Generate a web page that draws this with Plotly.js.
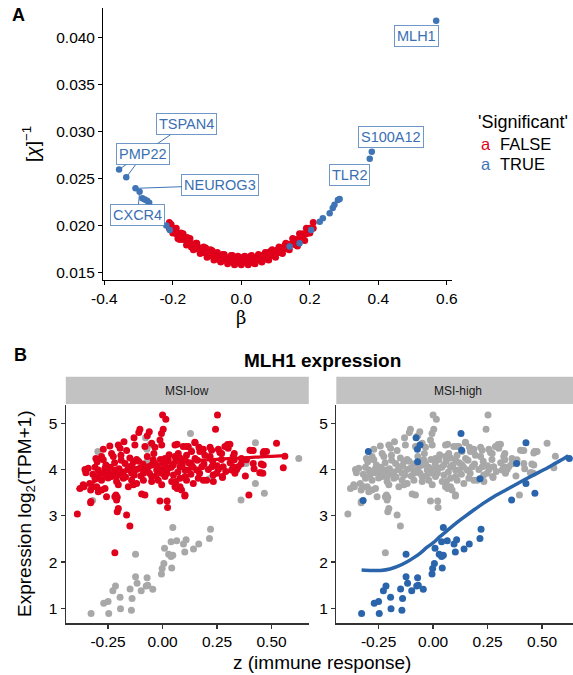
<!DOCTYPE html>
<html><head><meta charset="utf-8">
<script src="https://cdn.plot.ly/plotly-3.0.1.min.js"></script>
<style>html,body{margin:0;padding:0;background:#fff}#chart{width:573px;height:675px}</style>
</head><body><div id="chart"></div>
<script>
// ---------- Panel A data ----------
const nsX = [
 -0.21,-0.19,-0.17,-0.15,-0.13,-0.11,-0.09,-0.07,-0.05,-0.03,-0.01,0.01,0.03,0.05,0.07,0.09,0.11,0.13,0.15,0.17,0.19,0.21,
 -0.21,-0.19,-0.17,-0.15,-0.13,-0.11,-0.09,-0.07,-0.05,-0.03,-0.01,0.01,0.03,0.05,0.07,0.09,0.11,0.13,0.15,0.17,0.19,0.21,
 -0.20,-0.18,-0.16,-0.14,-0.12,-0.10,-0.08,-0.06,-0.04,-0.02,0.00,0.02,0.04,0.06,0.08,0.10,0.12,0.14,0.16,0.18,0.20,
 -0.20,-0.18,-0.16,-0.14,-0.12,-0.10,-0.08,-0.06,-0.04,-0.02,0.00,0.02,0.04,0.06,0.08,0.10,0.12,0.14,0.16,0.18,0.20,
 -0.205,-0.176,-0.158,-0.133,-0.104,-0.085,-0.055,-0.026,0.006,0.027,0.058,0.083,0.106,0.128,0.155,0.176,0.196,
 -0.185,-0.146,-0.117,-0.064,-0.013,0.036,0.074,0.117,0.164,0.185
];
const nsY = [
 0.0203,0.0197,0.0191,0.0186,0.0181,0.0177,0.0174,0.0171,0.0169,0.0168,0.0167,0.0167,0.0168,0.0169,0.0171,0.0174,0.0177,0.0181,0.0186,0.0191,0.0197,0.0203,
 0.0197,0.0191,0.0185,0.0180,0.0175,0.0171,0.0168,0.0165,0.0163,0.0162,0.0161,0.0161,0.0162,0.0163,0.0165,0.0168,0.0171,0.0175,0.0180,0.0185,0.0191,0.0197,
 0.0197,0.0191,0.0185,0.0180,0.0176,0.0172,0.0169,0.0167,0.0165,0.0164,0.0164,0.0164,0.0165,0.0167,0.0169,0.0172,0.0176,0.0180,0.0185,0.0191,0.0197,
 0.0192,0.0185,0.0179,0.0174,0.0170,0.0166,0.0163,0.0161,0.0159,0.0158,0.0158,0.0158,0.0159,0.0161,0.0163,0.0166,0.0170,0.0174,0.0179,0.0185,0.0192,
 0.0201,0.0192,0.0187,0.0181,0.0176,0.0173,0.0169,0.0168,0.0166,0.0167,0.0168,0.0172,0.0174,0.0179,0.0184,0.0189,0.0195,
 0.0186,0.0177,0.0171,0.0163,0.0160,0.0160,0.0164,0.0171,0.0178,0.0184
];
const sigOtherX = [-0.289,-0.282,-0.275,-0.269,-0.219,-0.209,0.141,0.170,0.204,0.229,0.238,0.258,0.267,0.272,0.282,0.287];
const sigOtherY = [0.02288,0.02277,0.02262,0.02241,0.0200,0.0195,0.01774,0.0181,0.0195,0.02039,0.02075,0.0213,0.02185,0.0222,0.0227,0.0228];
const genes = ["MLH1","S100A12","TLR2","TSPAN4","PMP22","NEUROG3","CXCR4"];
const geneX = [0.569,0.381,0.375,-0.357,-0.336,-0.309,-0.297];
const geneY = [0.0418,0.02785,0.0271,0.02597,0.02512,0.02395,0.02358];
const aTickX = [-0.4,-0.2,0.0,0.2,0.4,0.6];
const aTickXText = ["-0.4","-0.2","0.0","0.2","0.4","0.6"];
const aTickY = [0.015,0.020,0.025,0.030,0.035,0.040];
const aTickYText = ["0.015","0.020","0.025","0.030","0.035","0.040"];
const legendLabels = ["FALSE","TRUE"];

// ---------- Panel B data ----------
const lowX = [
 -0.391,-0.219,-0.150,-0.165,-0.203,-0.208,-0.214,-0.208,-0.330,-0.012,
 0.021,0.023,0.102,0.396,0.000,0.015,0.252,0.243,0.523,0.554,
 0.561,0.446,0.453,0.465,0.410,0.309,0.294,0.275,0.324,0.232,
 -0.104,-0.109,-0.061,-0.070,0.003,-0.005,-0.131,-0.177,-0.242,-0.272,
 -0.306,-0.300,-0.356,-0.352,-0.379,-0.361,-0.330,-0.318,-0.280,-0.257,
 -0.219,-0.096,-0.081,0.067,0.080,0.061,0.278,0.187,0.141,0.067,
 0.148,0.187,0.110,0.225,0.263,0.301,0.362,0.385,0.460,0.324,
 0.149,0.118,0.167,0.218,0.298,0.286,0.256,0.271,0.133,0.171,
 0.194,0.218,0.110,0.149,0.329,0.329,0.401,0.416,0.462,0.477,
 0.462,0.451,0.416,0.347,0.332,0.317,0.256,0.248,0.226,
 0.180,0.157,0.133,0.118,0.103,0.164,0.202,0.233,0.274,
 -0.203,-0.195,-0.127,-0.081,-0.050,-0.035,-0.012,-0.004,0.057,0.072,
 0.095,-0.234,-0.226,-0.191,-0.165,-0.280,-0.272,-0.134,-0.119,
 -0.043,-0.035,0.011,0.026,0.057,0.103,-0.341,-0.295,-0.264,
 -0.249,-0.218,-0.195,-0.172,-0.150,-0.142,-0.104,-0.088,-0.065,-0.027,
 -0.004,0.026,0.049,0.080,0.103,-0.310,-0.280,-0.234,-0.211,-0.180,
 -0.142,-0.119,-0.088,-0.050,-0.020,0.011,0.042,0.080,0.110,-0.364,
 -0.334,-0.302,-0.264,-0.203,-0.157,-0.134,-0.050,-0.004,0.057,
 0.087,-0.295,-0.211,-0.329,0.103,
 -0.32,-0.31,-0.29,-0.27,-0.26,-0.25,-0.24,-0.23,-0.22,-0.21,
 -0.20,-0.19,-0.18,-0.17,-0.16,-0.15,-0.14,-0.13,-0.12,-0.11,
 -0.10,-0.09,-0.08,-0.07,-0.06,-0.05,-0.04,-0.03,-0.02,-0.01,
 0.00,0.01,0.02,0.03,0.04,0.05,0.06,0.07,0.08,0.09,
 0.12,0.13,0.14,0.16,0.17,0.19,0.21,0.23,0.25,0.27,
 0.29,0.31,0.34,0.36,0.38,0.42
];
const lowY = [
 3.04,2.20,2.78,3.02,3.16,3.09,3.45,3.40,3.28,3.32,
 3.32,3.18,3.43,3.45,5.18,5.09,5.18,4.87,4.57,4.04,
 4.29,3.93,4.12,4.39,4.41,4.55,4.50,3.83,4.06,3.88,
 4.87,4.80,4.82,4.73,4.87,4.78,4.69,4.60,4.51,4.44,
 4.24,4.17,4.00,3.93,3.59,3.63,3.56,3.63,3.56,3.41,
 3.41,3.47,3.45,3.59,3.63,3.74,4.06,3.77,3.70,4.55,
 4.59,4.44,4.50,4.42,4.37,4.46,4.24,4.21,3.92,4.28,
 4.58,4.50,4.48,4.48,4.54,4.50,4.44,4.35,4.39,4.39,
 4.31,4.28,4.31,4.24,4.35,4.21,4.42,4.41,4.36,4.39,
 4.10,3.93,4.13,4.06,3.92,3.99,4.00,3.92,4.06,
 4.06,3.99,4.10,3.99,3.85,3.81,3.77,3.74,3.85,
 4.53,4.46,4.53,4.50,4.57,4.48,4.64,4.53,4.53,4.35,
 4.50,4.35,4.28,4.31,4.41,4.28,4.21,4.17,4.22,
 4.21,4.13,4.24,4.21,4.28,4.21,4.03,3.99,4.03,
 3.95,3.99,3.92,4.13,4.06,3.92,4.03,3.92,4.06,3.99,
 3.92,4.03,4.10,4.06,3.99,3.81,3.77,3.85,3.74,3.81,
 3.77,3.70,3.77,3.85,3.77,3.85,3.74,3.81,3.77,3.67,
 3.70,3.63,3.59,3.67,3.63,3.67,3.74,3.67,3.63,
 3.56,3.52,3.34,3.31,3.45,
 3.90,4.05,3.88,3.93,4.10,3.82,4.05,3.90,4.15,3.86,
 4.02,4.20,3.95,3.84,4.00,4.25,4.08,3.88,4.00,4.18,
 3.86,4.12,3.98,4.28,3.92,4.10,4.35,3.86,4.05,4.22,
 4.00,4.12,3.92,4.32,4.05,3.88,4.18,3.95,4.25,4.10,
 4.15,3.90,4.05,4.20,3.92,4.12,4.00,4.18,4.08,4.22,
 3.96,4.15,4.00,4.12,3.86,4.02
];
const highX = [
 0.360,0.047,0.220,0.215,0.108,0.096,0.065,0.039,0.166,0.142,
 0.102,0.009,0.028,0.039,0.047,-0.124,0.006,-0.002,-0.005,0.042,
 -0.124,-0.071,-0.117,-0.075,-0.068,-0.045,-0.098,-0.149,-0.216,-0.228,
 -0.195,-0.140,-0.250,-0.270,-0.193,-0.143,-0.247,-0.328,-0.297,-0.321,
 -0.078,-0.060,-0.072,-0.071,0.128,0.131,0.215,0.383,0.426,0.426,
 0.467,0.625
];
const highY = [
 3.34,2.75,2.71,2.51,2.48,2.39,2.46,2.44,2.39,2.28,
 2.22,2.30,2.17,2.12,2.15,2.17,1.97,1.86,1.74,1.87,
 1.68,1.66,1.54,1.48,1.50,1.41,1.38,1.42,1.48,1.38,
 1.24,1.21,1.15,1.11,0.99,0.96,0.89,0.89,4.39,3.33,
 4.69,4.53,4.44,4.17,4.78,4.42,3.80,4.13,4.58,3.70,
 3.49,4.24
];
const fitLowX = [-0.394,-0.35,-0.30,-0.25,-0.20,-0.15,-0.10,-0.05,0.0,0.05,0.10,0.15,0.20,0.25,0.30,0.35,0.40,0.45,0.50,0.561];
const fitLowY = [3.56,3.66,3.77,3.86,3.94,4.00,4.05,4.09,4.12,4.15,4.17,4.19,4.21,4.22,4.235,4.25,4.26,4.275,4.285,4.30];
const fitHighX = [-0.328,-0.28,-0.24,-0.198,-0.16,-0.121,-0.09,-0.06,-0.03,0.001,0.031,0.062,0.10,0.139,0.185,0.23,0.28,0.338,0.40,0.46,0.51,0.551,0.59,0.62];
const fitHighY = [1.83,1.82,1.82,1.85,1.91,2.00,2.09,2.19,2.31,2.42,2.55,2.67,2.82,2.96,3.12,3.27,3.42,3.57,3.73,3.88,4.00,4.11,4.21,4.30];
const bTickX = [-0.25,0.0,0.25,0.5];
const bTickXText = ["-0.25","0.00","0.25","0.50"];
const bTickY = [1,2,3,4,5];
const panels = ["MSI-low","MSI-high"];

// ---------- styling ----------
const W = 573, H = 675;
const fx = v => v / W, fy = v => 1 - v / H;
const RED = '#E0001B', BLUE_A = '#3F74B6', BLUE_B = '#2A64AB', GREY = '#A8A8A8';
const FONT = 'Liberation Sans, Arial, sans-serif';

const traces = [
  {x: nsX, y: nsY, xaxis:'x', yaxis:'y', type:'scatter', mode:'markers', marker:{color:RED, size:7}, hoverinfo:'skip'},
  {x: sigOtherX, y: sigOtherY, xaxis:'x', yaxis:'y', type:'scatter', mode:'markers', marker:{color:BLUE_A, size:6.5}, hoverinfo:'skip'},
  {x: geneX, y: geneY, xaxis:'x', yaxis:'y', type:'scatter', mode:'markers', marker:{color:BLUE_A, size:6.5}, text:genes, hoverinfo:'text'},
  {x: highX, y: highY, xaxis:'x2', yaxis:'y2', type:'scatter', mode:'markers', marker:{color:GREY, size:7}, hoverinfo:'skip'},
  {x: lowX, y: lowY, xaxis:'x2', yaxis:'y2', type:'scatter', mode:'markers', marker:{color:RED, size:7}, hoverinfo:'skip'},
  {x: fitLowX, y: fitLowY, xaxis:'x2', yaxis:'y2', type:'scatter', mode:'lines', line:{color:RED, width:3.2, shape:'spline'}, hoverinfo:'skip'},
  {x: lowX, y: lowY, xaxis:'x3', yaxis:'y3', type:'scatter', mode:'markers', marker:{color:GREY, size:7}, hoverinfo:'skip'},
  {x: highX, y: highY, xaxis:'x3', yaxis:'y3', type:'scatter', mode:'markers', marker:{color:BLUE_B, size:7}, hoverinfo:'skip'},
  {x: fitHighX, y: fitHighY, xaxis:'x3', yaxis:'y3', type:'scatter', mode:'lines', line:{color:BLUE_B, width:3.5, shape:'spline'}, hoverinfo:'skip'}
];

const axA = {showline:true, linecolor:'#000', linewidth:1.2, ticks:'outside', ticklen:4, tickwidth:1.2, tickcolor:'#000',
  showgrid:false, zeroline:false, tickfont:{family:FONT, size:15.5, color:'#000'}};
const axB = {showline:true, linecolor:'#333', linewidth:1.3, ticks:'outside', ticklen:4, tickwidth:1.2, tickcolor:'#333',
  showgrid:false, zeroline:false, tickfont:{family:FONT, size:15.5, color:'#000'}};

// label offsets (px) for ggrepel-like boxes
const labelOffsets = [[-20,15],[19,-15],[-20,16],[67,-45],[17,-23],[85,-3],[-2,23]];
const labelSegment = [false,false,false,true,true,true,true];

const annotations = [];
genes.forEach((g,i) => {
  annotations.push({xref:'x', yref:'y', x:geneX[i], y:geneY[i], text:g, showarrow:true, arrowhead:0,
    arrowwidth:1, arrowcolor: labelSegment[i] ? BLUE_A : 'rgba(0,0,0,0)', standoff:0,
    ax:labelOffsets[i][0], ay:labelOffsets[i][1],
    font:{family:FONT, size:14.5, color:'#3A6FB3'}, bgcolor:'#fff', bordercolor:'rgba(63,116,182,0.75)', borderwidth:1, borderpad:2});
});
const txt = (text, x, y, opts) => Object.assign({xref:'paper', yref:'paper', x:fx(x), y:fy(y), text, showarrow:false,
  xanchor:'center', yanchor:'middle', font:{family:FONT, size:19, color:'#000'}}, opts||{});
annotations.push(
  txt('<b>A</b>', 18, 15, {font:{family:FONT, size:18, color:'#000'}}),
  txt('<b>B</b>', 20, 355, {font:{family:FONT, size:18, color:'#000'}}),
  txt('[<i>χ</i>]<sup>−1</sup>', 31, 144, {textangle:-90}),
  txt('β', 241, 318, {font:{family:'DejaVu Serif, serif', size:18, color:'#000'}}),
  txt("'Significant'", 476, 122, {xanchor:'left', font:{family:FONT, size:18, color:'#000'}}),
  txt('a', 486, 144, {font:{family:FONT, size:16.5, color:RED}}),
  txt(legendLabels[0], 498, 144, {xanchor:'left', font:{family:FONT, size:16.5, color:'#000'}}),
  txt('a', 486, 164, {font:{family:FONT, size:16.5, color:BLUE_A}}),
  txt(legendLabels[1], 498, 164, {xanchor:'left', font:{family:FONT, size:16.5, color:'#000'}}),
  txt('<b>MLH1 expression</b>', 322, 360),
  txt(panels[0], 187.3, 390.5, {font:{family:FONT, size:12, color:'#1a1a1a'}}),
  txt(panels[1], 457.8, 390.5, {font:{family:FONT, size:12, color:'#1a1a1a'}}),
  txt('Expression log<sub>2</sub>(TPM+1)', 26, 514, {textangle:-90}),
  txt('z (immune response)', 322, 662)
);

const layout = {
  width: W, height: H, margin:{l:0,r:0,t:0,b:0}, showlegend:false,
  paper_bgcolor:'#fff', plot_bgcolor:'rgba(0,0,0,0)', font:{family:FONT},
  xaxis: Object.assign({}, axA, {domain:[fx(103.3), fx(451.6)], range:[-0.403,0.614], anchor:'y', tickvals:aTickX, ticktext:aTickXText}),
  yaxis: Object.assign({}, axA, {domain:[fy(280), fy(8)], range:[0.01418,0.04317], anchor:'x', tickvals:aTickY, ticktext:aTickYText}),
  xaxis2: Object.assign({}, axB, {domain:[fx(65.8), fx(308.8)], range:[-0.444,0.671], anchor:'y2', tickvals:bTickX, ticktext:bTickXText}),
  yaxis2: Object.assign({}, axB, {domain:[fy(623.3), fy(405)], range:[0.676,5.396], anchor:'x2', tickvals:bTickY}),
  xaxis3: Object.assign({}, axB, {domain:[fx(336.3), 1], range:[-0.444,0.6418], anchor:'y3', tickvals:bTickX, ticktext:bTickXText}),
  yaxis3: Object.assign({}, axB, {domain:[fy(623.3), fy(405)], range:[0.676,5.396], anchor:'x3', tickvals:bTickY}),
  shapes: [
    {type:'rect', xref:'paper', yref:'paper', x0:fx(65.8), x1:fx(308.8), y0:fy(404), y1:fy(376.7), fillcolor:'#C2C2C2', line:{width:0}, layer:'below'},
    {type:'rect', xref:'paper', yref:'paper', x0:fx(336.3), x1:1, y0:fy(404), y1:fy(376.7), fillcolor:'#C2C2C2', line:{width:0}, layer:'below'}
  ],
  annotations
};
Plotly.newPlot('chart', traces, layout, {displayModeBar:false, staticPlot:true});
</script>
</body></html>
